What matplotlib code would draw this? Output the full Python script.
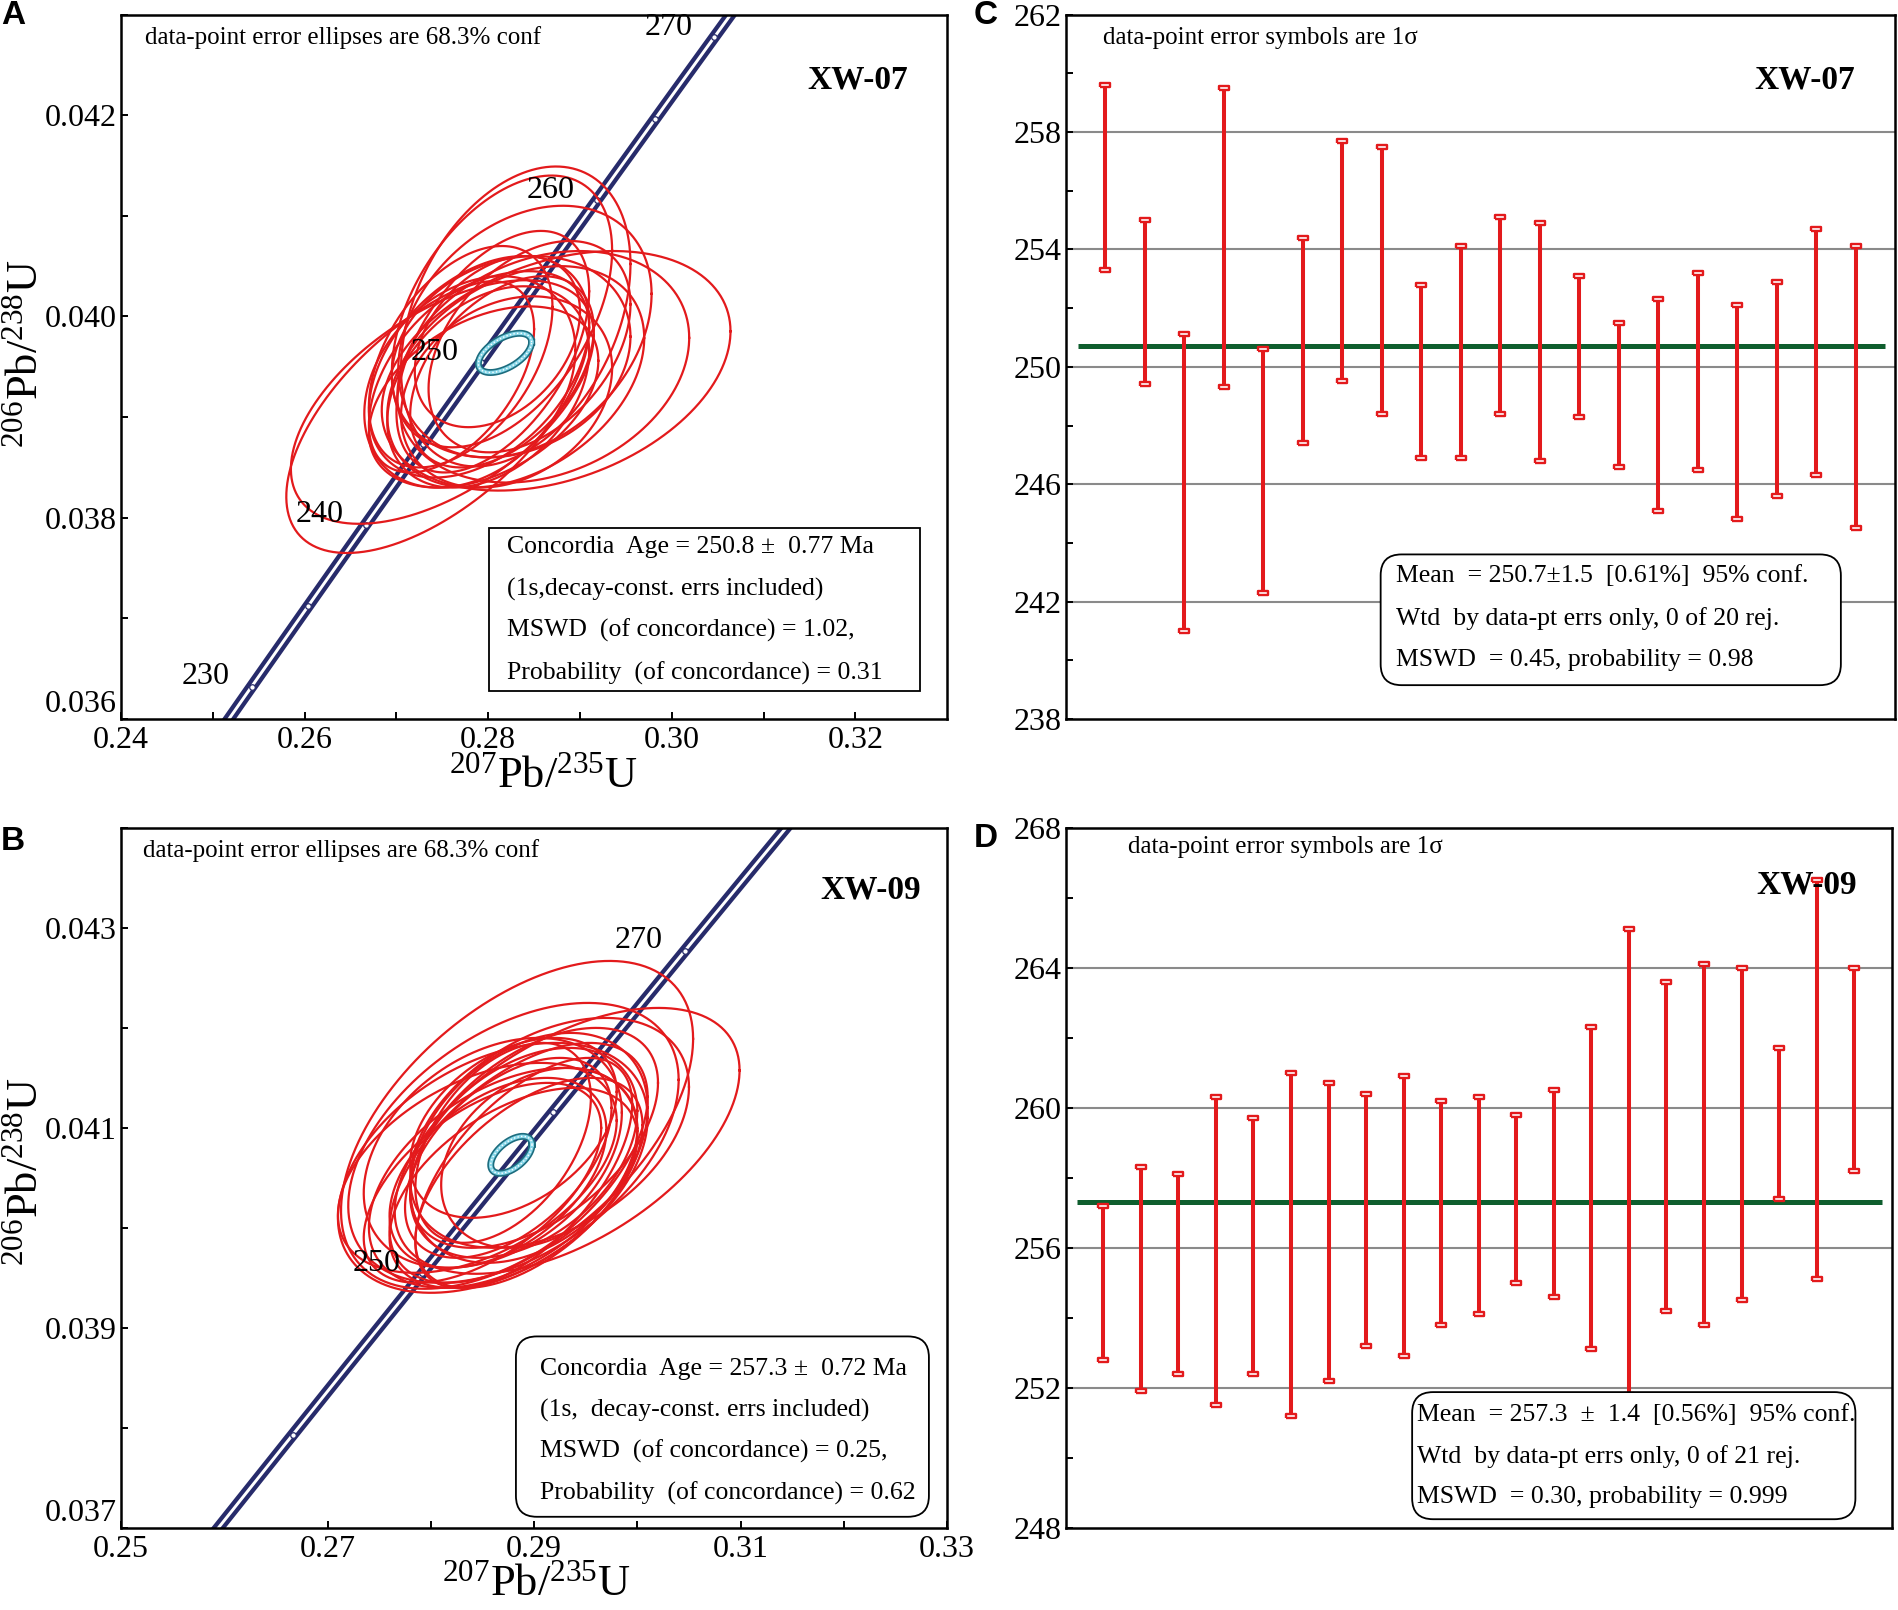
import numpy as np
import matplotlib
matplotlib.use('Agg')
import matplotlib.pyplot as plt
from matplotlib.patches import FancyBboxPatch

plt.rcParams['font.family'] = ['Liberation Serif', 'DejaVu Serif']
plt.rcParams['mathtext.fontset'] = 'custom'
plt.rcParams['mathtext.rm'] = 'Liberation Serif'

# decay constants, 1/yr
L238 = 1.55125e-10
L235 = 9.8485e-10

# XW-07 error ellipses (207Pb/235U, 206Pb/238U centre, half-extent in x and y, rho)
xw07_x = [0.2874, 0.2860, 0.2745, 0.2750, 0.2830, 0.2815, 0.2840, 0.2790, 0.2800, 0.2815,
          0.2780, 0.2825, 0.2805, 0.2770, 0.2830, 0.2795, 0.2810, 0.2760, 0.2820, 0.2845]
xw07_y = [0.03946, 0.03950, 0.03905, 0.03915, 0.04000, 0.04005, 0.03985, 0.03950, 0.03930, 0.03945,
          0.03935, 0.03960, 0.03965, 0.03960, 0.03940, 0.03920, 0.03975, 0.03940, 0.03925, 0.03970]
xw07_sx = [0.0190, 0.0159, 0.0165, 0.0165, 0.0125, 0.0120, 0.0138, 0.0120, 0.0110, 0.0100,
           0.0115, 0.0130, 0.0105, 0.0100, 0.0140, 0.0125, 0.0090, 0.0090, 0.0115, 0.0110]
xw07_sy = [0.00119, 0.00115, 0.00140, 0.00121, 0.00149, 0.00135, 0.00125, 0.00110, 0.00100, 0.00095,
           0.00105, 0.00100, 0.00120, 0.00110, 0.00110, 0.00090, 0.00085, 0.00095, 0.00095, 0.00105]
xw07_rho = [0.33, 0.25, 0.60, 0.55, 0.35, 0.45, 0.30, 0.40, 0.35, 0.45,
            0.30, 0.20, 0.50, 0.45, 0.35, 0.40, 0.35, 0.50, 0.25, 0.40]

# XW-09 error ellipses
xw09_x = [0.28835, 0.2932, 0.2880, 0.2860, 0.2870, 0.2885, 0.2890, 0.2875, 0.2895, 0.2865, 0.2900,
          0.2850, 0.2905, 0.2880, 0.2870, 0.2915, 0.2860, 0.2845, 0.2890, 0.2880, 0.2895]
xw09_y = [0.04103, 0.04087, 0.04085, 0.04060, 0.04050, 0.04065, 0.04075, 0.04070, 0.04080, 0.04055, 0.04090,
          0.04045, 0.04070, 0.04040, 0.04085, 0.04095, 0.04075, 0.04060, 0.04055, 0.04100, 0.04045]
xw09_sx = [0.01705, 0.0167, 0.0160, 0.0150, 0.0130, 0.0125, 0.0110, 0.0100, 0.0115, 0.0105, 0.0120,
           0.0115, 0.0095, 0.0120, 0.0085, 0.0135, 0.0125, 0.0135, 0.0105, 0.0100, 0.0110]
xw09_sy = [0.00164, 0.00133, 0.00140, 0.00125, 0.00110, 0.00120, 0.00105, 0.00100, 0.00115, 0.00095, 0.00110,
           0.00100, 0.00090, 0.00100, 0.00100, 0.00115, 0.00115, 0.00105, 0.00115, 0.00090, 0.00105]
xw09_rho = [0.525, 0.53, 0.45, 0.40, 0.45, 0.55, 0.40, 0.50, 0.35, 0.45, 0.50,
            0.55, 0.30, 0.50, 0.45, 0.40, 0.35, 0.45, 0.60, 0.40, 0.55]

# concordia age ellipses: x, y, sx, sy, rho
xw07_conc = [0.28183, 0.039638, 0.0029, 0.000195, 0.55]
xw09_conc = [0.28780, 0.040730, 0.0020, 0.000185, 0.55]

# axis ranges and ticks of the concordia panels
xw07_xlim, xw07_ylim = (0.24, 0.33), (0.036, 0.043)
xw07_xticks = [0.24, 0.26, 0.28, 0.30, 0.32]
xw07_yticks = [0.036, 0.038, 0.040, 0.042]
xw09_xlim, xw09_ylim = (0.25, 0.33), (0.037, 0.044)
xw09_xticks = [0.25, 0.27, 0.29, 0.31, 0.33]
xw09_yticks = [0.037, 0.039, 0.041, 0.043]

# 206Pb/238U ages, 1 sigma bar ends (Ma)
xw07_lo = [253.3, 249.4, 241.0, 249.3, 242.3, 247.4, 249.5, 248.4, 246.9, 246.9,
           248.4, 246.8, 248.3, 246.6, 245.1, 246.5, 244.8, 245.6, 246.3, 244.5]
xw07_hi = [259.6, 255.0, 251.1, 259.5, 250.6, 254.4, 257.7, 257.5, 252.8, 254.1,
           255.1, 254.9, 253.1, 251.5, 252.3, 253.2, 252.1, 252.9, 254.7, 254.1]
xw07_mean = 250.7

xw09_lo = [252.8, 251.9, 252.4, 251.5, 252.4, 251.2, 252.2, 253.2, 252.9, 253.8, 254.1,
           255.0, 254.6, 253.1, 251.8, 254.2, 253.8, 254.5, 257.4, 255.1, 258.2]
xw09_hi = [257.2, 258.3, 258.1, 260.3, 259.7, 261.0, 260.7, 260.4, 260.9, 260.2, 260.3,
           259.8, 260.5, 262.3, 265.1, 263.6, 264.1, 264.0, 261.7, 266.5, 264.0]
xw09_mean = 257.3

RED = '#e31a1c'
NAVY = '#272b6b'
GREEN = '#0f5e2e'
W, H = 1568.0, 1330.0  # layout measured on a 1568x1330 view
CAP = [(-1, -0.45), (1, -0.45), (1, 0.45), (-1, 0.45), (-1, -0.45)]


def fpos(px, py):
    return px / W, 1 - py / H


def ftext(px, py, s, **kw):
    x, y = fpos(px, py)
    fig.text(x, y, s, **kw)


def text_box(x0, y0, x1, y1, lines, ys, xt, rounded=True, size=18.5):
    a, b = fpos(x0, y1)
    c, d = fpos(x1, y0)
    style = 'round,pad=0,rounding_size=0.011' if rounded else 'square,pad=0'
    fig.patches.append(FancyBboxPatch((a, b), c - a, d - b, boxstyle=style,
                                      mutation_aspect=1899 / 1610, transform=fig.transFigure,
                                      fc='white', ec='black', lw=1.3, zorder=5))
    for s, yy in zip(lines, ys):
        ftext(xt, yy, s, fontsize=size, va='center', ha='left', zorder=6)


def ellipse(cx, cy, sx, sy, rho):
    t = np.linspace(0, 2 * np.pi, 300)
    return cx + sx * np.cos(t), cy + sy * (rho * np.cos(t) + np.sqrt(1 - rho ** 2) * np.sin(t))


def concordia_panel(ax, ex, ey, esx, esy, erho, conc, marks, labels, xlim, ylim, xticks, yticks):
    t = np.linspace(200, 300, 500) * 1e6
    ax.plot(np.expm1(L235 * t), np.expm1(L238 * t), color=NAVY, lw=8.2, zorder=2)
    ax.plot(np.expm1(L235 * t), np.expm1(L238 * t), color='white', lw=2.1, zorder=2)
    m = np.array(marks) * 1e6
    ax.plot(np.expm1(L235 * m), np.expm1(L238 * m), 'o', ms=4, mfc='white', mec=NAVY, mew=0.9, zorder=2)
    for i in range(len(ex)):
        px, py = ellipse(ex[i], ey[i], esx[i], esy[i], erho[i])
        ax.plot(px, py, color=RED, lw=1.6, zorder=3)
    px, py = ellipse(*conc)
    ax.plot(px, py, color='#1c6c7e', lw=5.0, zorder=4)
    ax.plot(px, py, color='#86d6e8', lw=2.6, zorder=4)
    ax.plot(px, py, color='white', lw=1.0, ls=(0, (1, 1.6)), zorder=4)
    for a in labels:
        ax.annotate(str(a), (np.expm1(L235 * a * 1e6), np.expm1(L238 * a * 1e6)),
                    xytext=(-46, 10), textcoords='offset pixels', ha='center', va='center',
                    fontsize=23, zorder=5)
    dx = xticks[1] - xticks[0]
    dy = yticks[1] - yticks[0]
    ax.set_xlim(*xlim)
    ax.set_ylim(*ylim)
    ax.set_xticks(xticks)
    ax.set_xticklabels(['%.2f' % v for v in xticks])
    ax.set_xticks(np.array(xticks[:-1]) + dx / 2, minor=True)
    ax.set_yticks(yticks)
    ax.set_yticklabels(['%.3f' % v for v in yticks])
    ax.set_yticks(np.array(yticks) + dy / 2, minor=True)
    style_axes(ax)
    ax.tick_params(axis='x', pad=5)
    # lowest y label sits just above the corner so it clears the first x label
    ax.get_yticklabels()[0].set_verticalalignment('bottom')


def mean_panel(ax, lo, hi, mean, ylim):
    xs = np.arange(1, len(lo) + 1)
    ax.set_xlim(0, len(lo) + 1)
    ax.set_ylim(*ylim)
    ax.set_yticks(np.arange(ylim[0], ylim[1] + 1, 4))
    ax.set_yticks(np.arange(ylim[0] + 2, ylim[1], 4), minor=True)
    ax.set_xticks([])
    for g in np.arange(ylim[0] + 4, ylim[1], 4):
        ax.axhline(g, color='#8a8a8a', lw=1.5, zorder=1)
    ax.plot([0.3, len(lo) + 0.75], [mean, mean], color=GREEN, lw=3.6, zorder=2, solid_capstyle='butt')
    ax.vlines(xs, lo, hi, color=RED, lw=2.9, zorder=3)
    ax.plot(xs, lo, ls='none', marker=CAP, ms=7, mfc='white', mec=RED, mew=1.7, zorder=4)
    ax.plot(xs, hi, ls='none', marker=CAP, ms=7, mfc='white', mec=RED, mew=1.7, zorder=4)
    style_axes(ax)


def style_axes(ax):
    for s in ax.spines.values():
        s.set_linewidth(1.8)
    ax.tick_params(which='both', direction='in', length=5, width=1.4, labelsize=23, pad=3,
                   top=False, right=False)


fig = plt.figure(figsize=(18.99, 16.10), dpi=100)
axA = fig.add_axes([100 / W, 1 - 594 / H, 682 / W, 582 / H])
axC = fig.add_axes([880 / W, 1 - 594 / H, 685 / W, 582 / H])
axB = fig.add_axes([100 / W, 1 - 1262 / H, 682 / W, 578 / H])
axD = fig.add_axes([880 / W, 1 - 1262 / H, 682 / W, 578 / H])

concordia_panel(axA, xw07_x, xw07_y, xw07_sx, xw07_sy, xw07_rho, xw07_conc,
                range(225, 281, 5), [230, 240, 250, 260, 270],
                xw07_xlim, xw07_ylim, xw07_xticks, xw07_yticks)
concordia_panel(axB, xw09_x, xw09_y, xw09_sx, xw09_sy, xw09_rho, xw09_conc,
                range(230, 281, 10), [250, 270],
                xw09_xlim, xw09_ylim, xw09_xticks, xw09_yticks)
mean_panel(axC, xw07_lo, xw07_hi, xw07_mean, (238, 262))
mean_panel(axD, xw09_lo, xw09_hi, xw09_mean, (248, 268))

xlab = r'$\mathregular{^{207}}$Pb/$\mathregular{^{235}}$U'
ylab = r'$\mathregular{^{206}}$Pb/$\mathregular{^{238}}$U'
ftext(449, 641, xlab, fontsize=32, ha='center', va='center')
ftext(22, 292, ylab, fontsize=32, ha='center', va='center', rotation=90)
ftext(443, 1309, xlab, fontsize=32, ha='center', va='center')
ftext(22, 968, ylab, fontsize=32, ha='center', va='center', rotation=90)

for lab, px, py in [('A', 1, 0), ('C', 804, 0), ('B', 1, 682), ('D', 804, 680)]:
    ftext(px, py, lab, fontsize=24, fontweight='bold', family='Liberation Sans', ha='left', va='top')

ftext(120, 31, 'data-point error ellipses are 68.3% conf', fontsize=18, va='center')
ftext(118, 703, 'data-point error ellipses are 68.3% conf', fontsize=18, va='center')
ftext(911, 31, 'data-point error symbols are 1\u03c3', fontsize=18, va='center')
ftext(931, 700, 'data-point error symbols are 1\u03c3', fontsize=18, va='center')
ftext(708, 66, 'XW-07', fontsize=24, fontweight='bold', ha='center', va='center')
ftext(1490, 66, 'XW-07', fontsize=24, fontweight='bold', ha='center', va='center')
ftext(719, 735, 'XW-09', fontsize=24, fontweight='bold', ha='center', va='center')
ftext(1492, 731, 'XW-09', fontsize=24, fontweight='bold', ha='center', va='center', zorder=0)

text_box(404, 436, 760, 571,
         ['Concordia  Age = 250.8 \u00b1  0.77 Ma', '(1s,decay-const. errs included)',
          'MSWD  (of concordance) = 1.02,', 'Probability  (of concordance) = 0.31'],
         [452, 487, 521, 556], 419, rounded=False)
text_box(426, 1104, 767, 1253,
         ['Concordia  Age = 257.3 \u00b1  0.72 Ma', '(1s,  decay-const. errs included)',
          'MSWD  (of concordance) = 0.25,', 'Probability  (of concordance) = 0.62'],
         [1131, 1165, 1199, 1234], 446)
text_box(1140, 458, 1520, 566,
         ['Mean  = 250.7\u00b11.5  [0.61%]  95% conf.', 'Wtd  by data-pt errs only, 0 of 20 rej.',
          'MSWD  = 0.45, probability = 0.98'],
         [476, 511, 545], 1153)
text_box(1166, 1150, 1532, 1255,
         ['Mean  = 257.3  \u00b1  1.4  [0.56%]  95% conf.', 'Wtd  by data-pt errs only, 0 of 21 rej.',
          'MSWD  = 0.30, probability = 0.999'],
         [1169, 1203, 1237], 1170)

fig.savefig('out.png', dpi=100)
